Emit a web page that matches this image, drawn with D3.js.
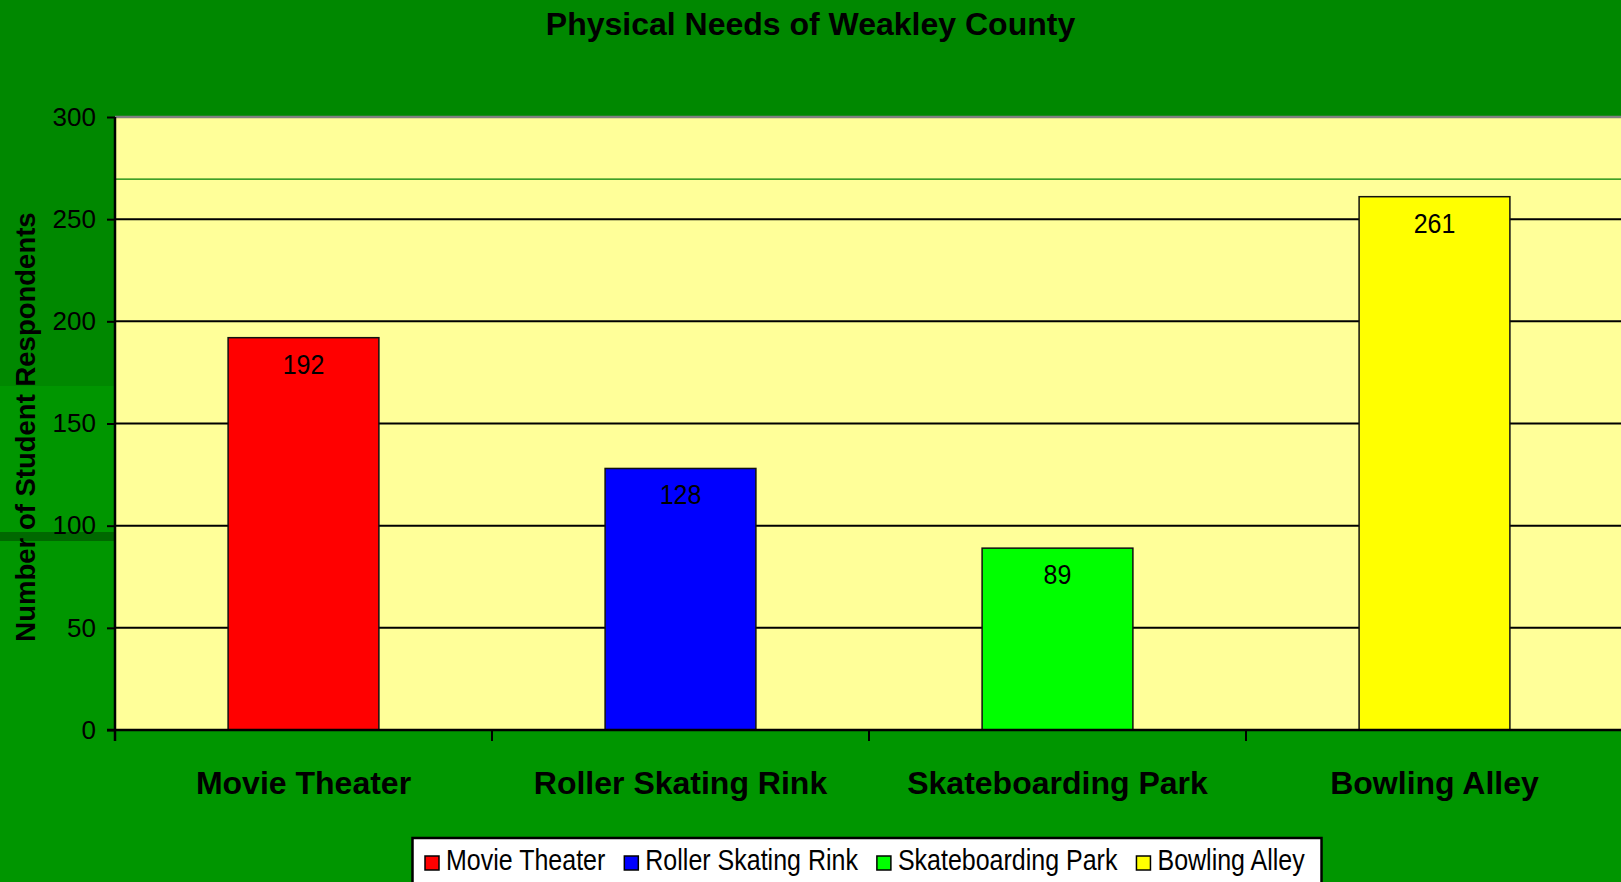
<!DOCTYPE html>
<html>
<head>
<meta charset="utf-8">
<script src="https://cdn.jsdelivr.net/npm/d3@7"></script>
<style>
  html, body { margin: 0; padding: 0; background: #008a00; overflow: hidden; }
  svg { display: block; font-family: 'Liberation Sans', Arial, sans-serif; }
</style>
</head>
<body>
<svg class="needs" width="1621" height="882"></svg>
<script>
const categories = ['Movie Theater', 'Roller Skating Rink', 'Skateboarding Park', 'Bowling Alley'];
const respondents = [192, 128, 89, 261];
const barColors = ['#ff0000', '#0000ff', '#00ff00', '#ffff00'];
const yTicks = [0, 50, 100, 150, 200, 250, 300];

function drawNeeds(){
  const svg = d3.select('svg.needs');
  const width = 1621;
  const height = 882;

  const plot = { left: 115, top: 117, bottom: 730, step: 377 };

  const y = d3.scaleLinear()
      .domain([0, 300])
      .range([plot.bottom, plot.top]);

  const x = d3.scaleBand()
      .domain(categories)
      .range([plot.left, plot.left + plot.step * categories.length])
      .paddingInner(0.6)
      .paddingOuter(0.3);

  // background, slide texture has a couple of shades
  svg.append('rect')
    .attr('x', 0).attr('y', 0)
    .attr('width', width).attr('height', height)
    .style('fill', '#008800');
  svg.append('rect')
    .attr('x', 0).attr('y', 386)
    .attr('width', plot.left).attr('height', height - 386)
    .style('fill', '#009600');
  svg.append('rect')
    .attr('x', 0).attr('y', plot.bottom)
    .attr('width', width).attr('height', height - plot.bottom)
    .style('fill', '#009600');
  svg.append('rect')
    .attr('x', 0).attr('y', 532)
    .attr('width', plot.left).attr('height', 9)
    .style('fill', '#006800');

  // title
  svg.append('text')
    .attr('class', 'title')
    .attr('x', width / 2)
    .attr('y', 35)
    .text('Physical Needs of Weakley County')
    .style('text-anchor', 'middle')
    .style('font-size', '32px')
    .style('font-weight', 'bold')
    .style('fill', '#000');

  // plot area
  svg.append('rect')
    .attr('x', plot.left)
    .attr('y', plot.top)
    .attr('width', width - plot.left + 5)
    .attr('height', plot.bottom - plot.top)
    .style('fill', '#ffff99');

  svg.append('line')
    .attr('x1', plot.left).attr('x2', width)
    .attr('y1', plot.top).attr('y2', plot.top)
    .style('stroke', '#808080')
    .style('stroke-width', 2.5);

  // thin green line near the top
  svg.append('line')
    .attr('x1', plot.left).attr('x2', width)
    .attr('y1', y(269.6)).attr('y2', y(269.6))
    .style('stroke', '#008000')
    .style('stroke-width', 1.2);

  // gridlines
  svg.append('g')
    .attr('class', 'grid')
    .selectAll('line')
    .data(yTicks.filter(d => d > 0 && d < 300))
    .join('line')
    .attr('x1', plot.left).attr('x2', width)
    .attr('y1', d => y(d)).attr('y2', d => y(d))
    .style('stroke', '#000')
    .style('stroke-width', 2);

  // bars
  svg.append('g')
    .attr('class', 'bars')
    .selectAll('rect')
    .data(categories)
    .join('rect')
    .attr('x', d => x(d))
    .attr('y', (d, i) => y(respondents[i]))
    .attr('width', x.bandwidth())
    .attr('height', (d, i) => plot.bottom - y(respondents[i]))
    .style('fill', (d, i) => barColors[i])
    .style('stroke', '#111')
    .style('stroke-width', 1.5);

  // value labels (source text is a bit taller than wide)
  svg.append('g')
    .attr('class', 'valLabels')
    .selectAll('text')
    .data(categories)
    .join('text')
    .attr('transform', (d, i) => `translate(${x(d) + x.bandwidth() / 2}, ${y(respondents[i]) + 36}) scale(1, 1.1)`)
    .text((d, i) => respondents[i])
    .style('text-anchor', 'middle')
    .style('font-size', '25px')
    .style('fill', '#000');

  // y axis
  const yAxis = svg.append('g')
    .attr('class', 'yAxis')
    .attr('transform', `translate(${plot.left}, 0)`)
    .call(d3.axisLeft(y).tickValues(yTicks).tickSize(8).tickPadding(11));
  yAxis.select('.domain').remove();
  yAxis.selectAll('line').style('stroke', '#000').style('stroke-width', 2);
  yAxis.selectAll('text')
    .style('font-size', '26px')
    .style('font-family', "'Liberation Sans', Arial, sans-serif")
    .style('fill', '#000');
  svg.append('line')
    .attr('x1', plot.left).attr('x2', plot.left)
    .attr('y1', plot.top).attr('y2', plot.bottom + 11)
    .style('stroke', '#000')
    .style('stroke-width', 2.5);

  // x axis line + category boundary ticks
  svg.append('line')
    .attr('x1', plot.left - 8).attr('x2', width)
    .attr('y1', plot.bottom).attr('y2', plot.bottom)
    .style('stroke', '#000')
    .style('stroke-width', 2.5);

  svg.append('g')
    .attr('class', 'xTicks')
    .selectAll('line')
    .data(categories)
    .join('line')
    .attr('x1', d => x(d) - x.step() * 0.3)
    .attr('x2', d => x(d) - x.step() * 0.3)
    .attr('y1', plot.bottom)
    .attr('y2', plot.bottom + 11)
    .style('stroke', '#000')
    .style('stroke-width', 2);

  svg.append('g')
    .attr('class', 'catLabels')
    .selectAll('text')
    .data(categories)
    .join('text')
    .attr('x', d => x(d) + x.bandwidth() / 2)
    .attr('y', 794)
    .text(d => d)
    .style('text-anchor', 'middle')
    .style('font-size', '32px')
    .style('font-weight', 'bold')
    .style('fill', '#000');

  // y axis title
  svg.append('text')
    .attr('class', 'yTitle')
    .attr('transform', 'translate(35, 427) rotate(-90)')
    .text('Number of Student Respondents')
    .style('text-anchor', 'middle')
    .style('font-size', '27.5px')
    .style('font-weight', 'bold')
    .style('fill', '#000');

  // legend
  const legend = svg.append('g').attr('class', 'legend');
  legend.append('rect')
    .attr('x', 412.5)
    .attr('y', 838)
    .attr('width', 909)
    .attr('height', 70)
    .style('fill', '#fff')
    .style('stroke', '#000')
    .style('stroke-width', 2.5);

  let cursor = 425;
  categories.forEach((c, i) => {
    legend.append('rect')
      .attr('x', cursor)
      .attr('y', 856)
      .attr('width', 14)
      .attr('height', 14)
      .style('fill', barColors[i])
      .style('stroke', '#000')
      .style('stroke-width', 1.5);
    const t = legend.append('text')
      .attr('transform', `translate(${cursor + 21}, 870) scale(1, 1.15)`)
      .text(c)
      .style('font-size', '25px')
      .style('fill', '#000');
    cursor += 21 + t.node().getComputedTextLength() + 19;
  });
}

drawNeeds();
</script>
</body>
</html>
